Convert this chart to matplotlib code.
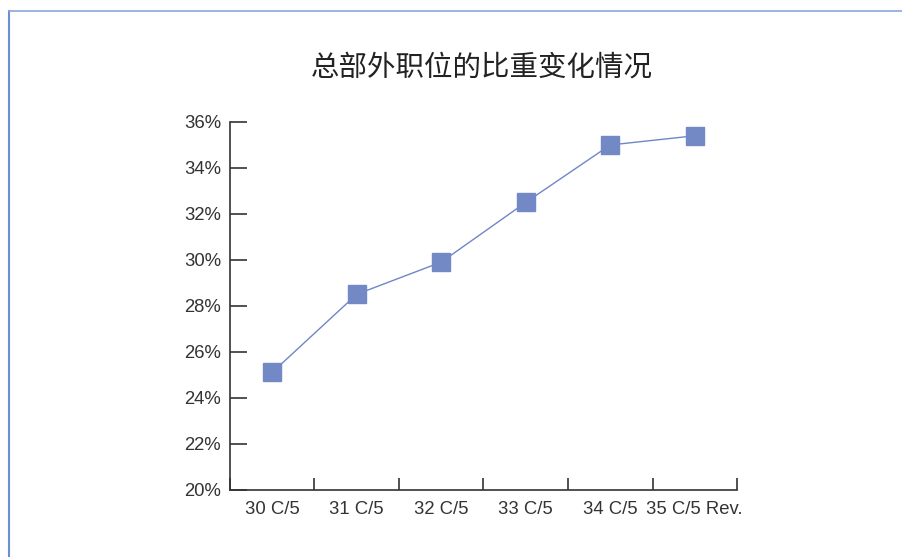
import matplotlib
matplotlib.use("Agg")
import matplotlib.pyplot as plt
from matplotlib.lines import Line2D

plt.rcParams['font.family'] = ['Liberation Sans', 'Noto Sans CJK SC', 'DejaVu Sans']

title = "总部外职位的比重变化情况"
categories = ["30 C/5", "31 C/5", "32 C/5", "33 C/5", "34 C/5", "35 C/5 Rev."]
values = [25.1, 28.5, 29.9, 32.5, 35.0, 35.4]
yticks = [20, 22, 24, 26, 28, 30, 32, 34, 36]

W, H = 903, 557
fig = plt.figure(figsize=(W / 100, H / 100), dpi=100)
ax = fig.add_axes([230 / W, 1 - 489.5 / H, (737 - 230) / W, (489.5 - 122) / H])

x = list(range(len(categories)))
ax.plot(x, values, color="#6F86C8", lw=1.0, marker="s", markersize=13,
        markerfacecolor="#7389C6", markeredgecolor="#7389C6", zorder=3, clip_on=False)

ax.set_xlim(-0.5, len(categories) - 0.5)
ax.set_ylim(20, 36)
ax.set_yticks(yticks)
ax.set_yticklabels([f"{v}%" for v in yticks])
ax.set_xticks(x)
ax.set_xticklabels(categories)
ax.set_xticks([i - 0.5 for i in range(len(categories) + 1)], minor=True)

for s in ["top", "right"]:
    ax.spines[s].set_visible(False)
for s in ["left", "bottom"]:
    ax.spines[s].set_color("#333333")
    ax.spines[s].set_linewidth(1.2)

ax.tick_params(axis="y", direction="in", length=12, width=1.2, color="#333333",
               labelsize=13.3, labelcolor="#333333", pad=6.5)
ax.tick_params(axis="x", which="major", length=0, labelsize=13.3, labelcolor="#333333", pad=8)
ax.tick_params(axis="x", which="minor", direction="in", length=9, width=1.2, color="#333333")

fig.text(482 / W, 1 - 68 / H, title, ha="center", va="center", fontsize=20.5,
         color="#222222", family=['Noto Sans CJK SC', 'DejaVu Sans'])

# page border lines
fig.add_artist(Line2D([8.5 / W, 8.5 / W], [0, 1 - 11 / H], color="#6A90D4", lw=1.5))
fig.add_artist(Line2D([8.5 / W, 1], [1 - 11 / H, 1 - 11 / H], color="#8AA6DA", lw=1.2))

fig.savefig("out.png", dpi=100)
